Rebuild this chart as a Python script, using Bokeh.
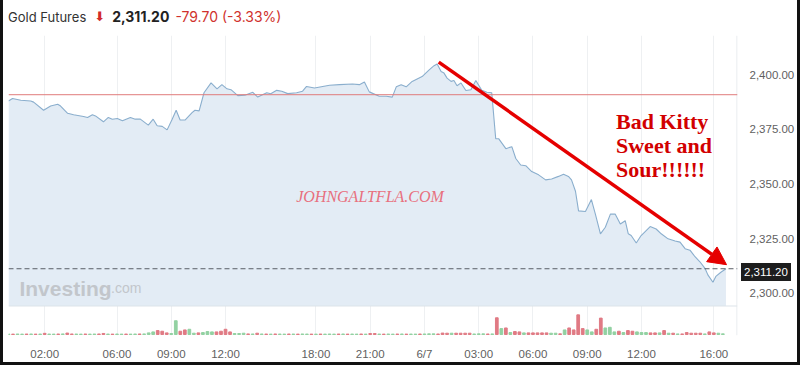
from bokeh.plotting import figure
from bokeh.models import (Range1d, FixedTicker, NumeralTickFormatter, Span, Label,
                          Arrow, NormalHead, ColumnDataSource, Div)
from bokeh.layouts import column
from bokeh.embed import file_html
from bokeh.resources import INLINE

# ---------------- data ----------------
# price samples: hours since 6/6 00:00 (session break 17:00-18:00)
price_times = [
    0.00, 0.22, 0.68, 1.23, 1.39, 1.94, 2.33, 2.72, 2.88, 3.27,
    3.60, 4.15, 4.37, 4.64, 4.81, 5.25, 5.52, 5.74, 6.02, 6.30,
    6.74, 7.01, 7.29, 7.73, 8.00, 8.22, 8.50, 8.77, 9.05, 9.27,
    9.49, 9.76, 10.15, 10.31, 10.54, 10.81, 11.20, 11.53, 11.80, 12.08,
    12.30, 12.68, 13.07, 13.51, 13.78, 14.28, 14.50, 14.83, 15.11, 15.44,
    15.93, 16.26, 16.48, 16.92, 18.75, 19.30, 20.02, 20.40, 20.68, 20.95,
    21.50, 21.89, 22.22, 22.44, 22.71, 22.99, 23.32, 23.87, 24.26, 24.53,
    24.70, 24.92, 25.08, 25.25, 25.47, 25.63, 25.80, 26.02, 26.29, 26.57,
    26.84, 27.17, 27.45, 27.72, 27.94, 28.11, 28.50, 28.83, 29.05, 29.32,
    29.60, 29.93, 30.31, 30.70, 31.03, 31.41, 31.69, 31.96, 32.13, 32.35,
    32.52, 32.90, 33.23, 33.45, 33.73, 34.00, 34.28, 34.55, 34.83, 35.10,
    35.27, 35.43, 35.71, 35.98, 36.48, 36.81, 37.09, 37.47, 37.86, 38.13,
    38.41, 38.68, 38.96, 39.23, 39.51, 39.67, 39.95, 40.11, 40.39, 40.67,
]
price_vals = [
    2388.0, 2389.2, 2388.4, 2388.0, 2387.5, 2383.8, 2385.7, 2386.5, 2385.7, 2382.4,
    2381.7, 2380.9, 2380.5, 2381.7, 2381.2, 2378.5, 2380.5, 2379.7, 2380.0, 2379.0,
    2380.5, 2379.7, 2379.7, 2377.0, 2379.7, 2376.7, 2376.4, 2374.8, 2379.7, 2383.8,
    2379.3, 2379.3, 2382.7, 2383.8, 2383.5, 2391.8, 2396.3, 2393.6, 2395.5, 2393.6,
    2393.2, 2390.5, 2390.7, 2392.0, 2389.8, 2391.8, 2391.3, 2392.9, 2392.5, 2391.4,
    2391.8, 2392.5, 2394.7, 2394.0, 2395.2, 2395.5, 2395.8, 2395.5, 2396.7, 2392.2,
    2390.2, 2390.2, 2389.8, 2394.5, 2395.5, 2394.5, 2397.0, 2399.2, 2402.3, 2404.2,
    2405.0, 2401.5, 2400.8, 2398.5, 2397.0, 2397.4, 2395.0, 2396.3, 2392.8, 2393.2,
    2397.4, 2392.9, 2392.0, 2391.8, 2370.7, 2370.7, 2366.2, 2367.1, 2361.7, 2358.7,
    2358.4, 2355.7, 2354.2, 2351.9, 2352.3, 2353.5, 2354.5, 2353.5, 2351.9, 2346.7,
    2337.7, 2337.4, 2342.9, 2336.2, 2327.2, 2330.2, 2336.2, 2336.2, 2331.7, 2333.2,
    2327.2, 2326.4, 2323.0, 2326.4, 2330.5, 2329.4, 2327.2, 2324.9, 2323.9, 2323.4,
    2320.4, 2319.7, 2316.7, 2314.4, 2311.4, 2308.4, 2305.0, 2307.7, 2309.6, 2311.2,
]

# volume: one bar per 15 minutes of trading time
volumes = [
    70, 60, 75, 60, 70, 80, 60, 70, 180, 70,
    60, 75, 90, 220, 80, 70, 60, 75, 60, 70,
    80, 160, 70, 60, 75, 60, 70, 60, 75, 80,
    90, 250, 400, 600, 500, 250, 150, 2100, 500, 700,
    800, 200, 250, 300, 450, 400, 400, 500, 800, 400,
    150, 150, 200, 90, 80, 200, 80, 70, 60, 80,
    70, 60, 75, 70, 60, 80, 70, 60, 60, 70,
    60, 75, 60, 70, 80, 60, 70, 60, 75, 60,
    150, 150, 70, 60, 75, 60, 70, 80, 60, 70,
    60, 75, 80, 100, 100, 80, 220, 200, 200, 200,
    200, 200, 200, 80, 100, 100, 80, 90, 2550, 900,
    1000, 300, 450, 400, 250, 250, 250, 250, 250, 250,
    200, 200, 100, 700, 1000, 700, 3000, 900, 700, 400,
    800, 2500, 1000, 1100, 400, 500, 300, 600, 500, 400,
    300, 300, 250, 250, 250, 600, 200, 200, 90, 90,
    300, 200, 200, 200, 90, 400, 250, 200, 100,
]
vol_dirs = ("grggrgrgrggrgrrggrggrrgrggrggrg"
            "ggrrrggrrggrgggrrrrgggrgrg"
            "rgrggrgrggr"
            "grgggrgrggrgrrgrggrgrggrg"
            "ggrrrgrrrrgggrgrgrgrrgrrrrrggrgrrrrggrrgggrgrrgggrrgrgrgrrrrrgrrgg")

tick_hours = [2, 6, 9, 12, 18, 21, 24, 27, 30, 33, 36, 40]
tick_labels = ["02:00", "06:00", "09:00", "12:00", "18:00", "21:00", "6/7",
               "03:00", "06:00", "09:00", "12:00", "16:00"]
y_ticks = [2300, 2325, 2350, 2375, 2400]

instrument = "Gold Futures"
last_price = 2311.20
prev_close = 2390.90
change = -79.70
change_pct = -3.33

# ---------------- helpers ----------------
def compress(t):
    # remove the one hour daily maintenance break (17:00-18:00)
    return t - 1 if t >= 18 else t

# layout constants (pixels) used only to place annotations
PX_PER_H = 18.16
FRAME_LEFT = 8
HEADER_H = 35
def px_x(px):
    return (px - FRAME_LEFT) / PX_PER_H
def px_y(py):
    return 2400 - (py - 75) / 2.22

pane_bottom = px_y(310)

px = [compress(t) for t in price_times]
vol_x = [compress(k * 0.25 if k * 0.25 < 17 else k * 0.25 + 1) for k in range(len(volumes))]
vol_col = ["#e07a84" if d == "r" else "#92d1a2" for d in vol_dirs[:len(volumes)]]

p = figure(width=794, height=362 - HEADER_H, output_backend="svg", toolbar_location=None,
           x_range=Range1d(0, px_x(740)), y_range=Range1d(px_y(340), px_y(35)),
           y_axis_location="right",
           min_border_left=5, min_border_right=57, min_border_top=0, min_border_bottom=22,
           background_fill_color="white", border_fill_color="white",
           outline_line_color=None)

vol_units_per_px = 150
frame_h = 305
p.extra_y_ranges = {"vol": Range1d(-vol_units_per_px, -vol_units_per_px + frame_h * vol_units_per_px)}

# grid
p.ygrid.visible = False
p.xgrid.ticker = FixedTicker(ticks=[compress(h) for h in tick_hours])
p.xgrid.grid_line_color = "#eef0f2"

# price area
p.varea(x=px, y1=[pane_bottom] * len(px), y2=price_vals, fill_color="#e3ecf5")
p.line(px, price_vals, line_color="#8aaecd", line_width=1.1)

# pane separator + right edge
p.add_layout(Span(location=pane_bottom, dimension="width", line_color="#dde3e9", line_width=1))
p.add_layout(Span(location=px_x(739.5), dimension="height", line_color="#e3e7eb", line_width=1))

# previous close line
p.add_layout(Span(location=prev_close, dimension="width", line_color="#e07b7b", line_width=1))
# last price dashed line
p.add_layout(Span(location=last_price, dimension="width", line_color="#5a5f66",
                  line_width=1, line_dash="5 3"))

# volume
src = ColumnDataSource(dict(x=vol_x, top=volumes, color=vol_col))
p.vbar(x="x", top="top", bottom=0, width=0.15, color="color", source=src, y_range_name="vol")

# axes
p.xaxis.ticker = FixedTicker(ticks=[compress(h) for h in tick_hours])
p.xaxis.major_label_overrides = {compress(h): lab for h, lab in zip(tick_hours, tick_labels)}
p.yaxis.ticker = FixedTicker(ticks=y_ticks)
p.yaxis.formatter = NumeralTickFormatter(format="0,0.00")
for ax in (p.xaxis[0], p.yaxis[0]):
    ax.axis_line_color = None
    ax.major_tick_line_color = None
    ax.minor_tick_line_color = None
    ax.major_label_text_font = "Liberation Sans"
    ax.major_label_text_font_size = "11.5px"
    ax.major_label_text_color = "#5f5f5f"
p.xaxis.major_label_standoff = 6
p.yaxis.major_label_standoff = 6

# watermark
p.add_layout(Label(x=px_x(19), y=px_y(292), text="Investing", text_baseline="alphabetic",
                   text_font="Liberation Sans", text_font_size="21px", text_font_style="bold",
                   text_color="#c2c6cb"))
p.add_layout(Label(x=px_x(111), y=px_y(292), text=".com", text_baseline="alphabetic",
                   text_font="Liberation Sans", text_font_size="14px",
                   text_color="#c2c6cb"))

# annotations
p.add_layout(Label(x=px_x(371), y=px_y(199), text="JOHNGALTFLA.COM", text_align="center",
                   text_baseline="alphabetic", text_font="Liberation Serif",
                   text_font_style="italic", text_font_size="16px", text_color="#e8707e"))
for i, line in enumerate(["Bad Kitty", "Sweet and", "Sour!!!!!!"]):
    p.add_layout(Label(x=px_x(618), y=px_y(122 + 24.5 * i), text=line, text_align="left",
                       text_baseline="alphabetic", text_font="Liberation Serif",
                       text_font_style="bold", text_font_size="22px", text_color="#d20000"))

p.add_layout(Arrow(end=NormalHead(size=18, fill_color="#e50000", line_color="#e50000"),
                   x_start=px_x(440), y_start=px_y(62), x_end=px_x(729), y_end=px_y(268),
                   line_color="#e50000", line_width=3.5))

# header (HTML text above the plot)
header_html = (
    '<div style="font-family:Inter,sans-serif;font-size:13px;color:#333;'
    'white-space:nowrap;line-height:34px;padding-left:5px">'
    f'{instrument}'
    '<span style="color:#d22b2b;font-family:\'DejaVu Sans\';font-size:13px;'
    'margin-left:8px;margin-right:7px;position:relative;top:-1px">&#11015;</span>'
    f'<b style="font-size:14px;color:#222">{last_price:,.2f}</b>'
    f'<span style="color:#d0312d;margin-left:6px;font-size:14px">{change:.2f} ({change_pct:.2f}%)</span>'
    '</div>'
)
header = Div(text=header_html, width=794, height=HEADER_H, margin=0)

# price tag over the right axis
tag = Div(text=f"{last_price:,.2f}", margin=0,
          styles={"position": "absolute", "left": "738px", "top": "263px",
                  "background-color": "#1d1d1d", "color": "white",
                  "font-family": "'Liberation Sans', Arial, sans-serif",
                  "font-size": "11.5px", "line-height": "14px",
                  "padding": "2px 3px", "z-index": "10"})

layout = column(header, p, tag, spacing=0,
                styles={"border-left": "3px solid #111", "border-right": "3px solid #111",
                        "border-bottom": "3px solid #111", "position": "relative"})

open("out.html", "w").write(file_html(layout, INLINE))
